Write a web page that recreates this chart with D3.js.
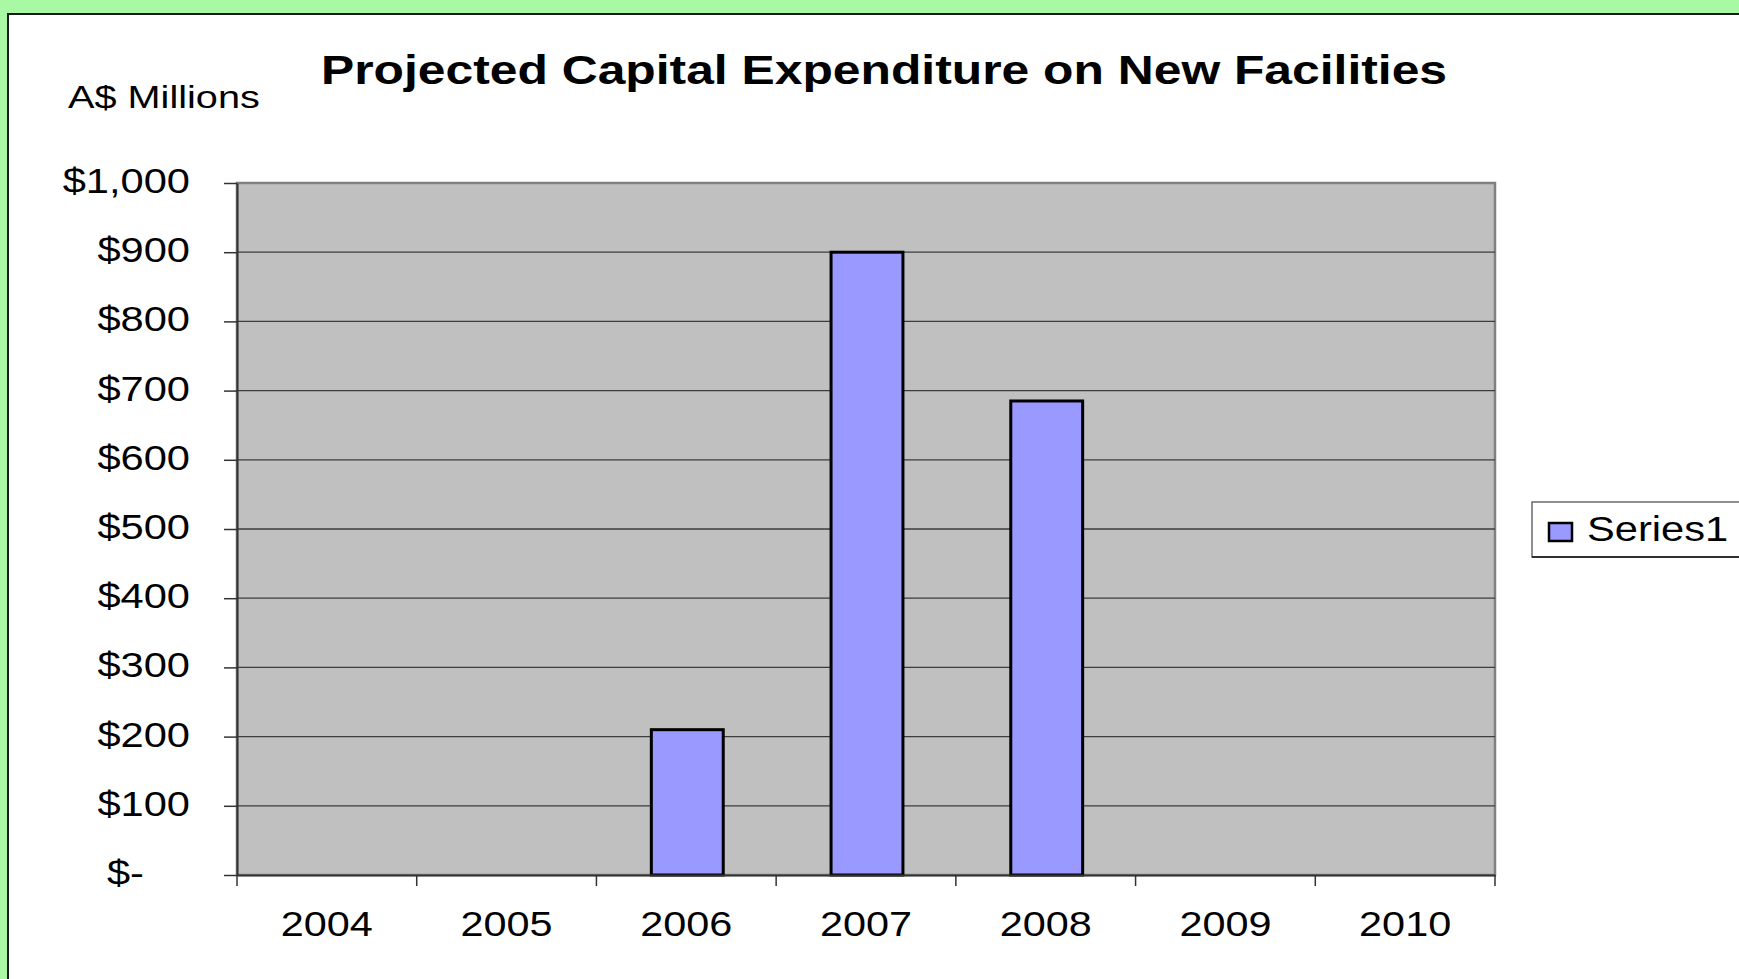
<!DOCTYPE html>
<html>
<head>
<meta charset="utf-8">
<script src="https://cdn.jsdelivr.net/npm/d3@7"></script>
<style>
  html, body { margin: 0; padding: 0; background: #a9f8a3; }
  svg { display: block; }
  text { font-family: "Liberation Sans", Arial, sans-serif; fill: #000; }
</style>
</head>
<body>
<script>
// Chart data
const years = ["2004", "2005", "2006", "2007", "2008", "2009", "2010"];
const capex = [null, null, 210, 900, 685, null, null];   // A$ millions
const yTicks = [0, 100, 200, 300, 400, 500, 600, 700, 800, 900, 1000];
const titleText = "Projected Capital Expenditure on New Facilities";
const unitText = "A$ Millions";
const seriesName = "Series1";

const W = 1739, H = 979;
const plot = { left: 237, right: 1495, top: 183, bottom: 875 };

const svg = d3.select("body").append("svg")
  .attr("width", W).attr("height", H);

// Page background and white chart panel
svg.append("rect").attr("width", W).attr("height", H).attr("fill", "#a9f8a3");
svg.append("rect")
  .attr("x", 8).attr("y", 14).attr("width", W + 10).attr("height", H + 10)
  .attr("fill", "#fff").attr("stroke", "#1a1a1a").attr("stroke-width", 2);

// Text helper: horizontally widened lettering
function label(g, x, y, txt, opts) {
  const o = Object.assign({ size: 35, sx: 1.17, anchor: "start", weight: "normal" }, opts);
  return g.append("g")
    .attr("transform", `translate(${x},${y}) scale(${o.sx},1)`)
    .append("text")
    .attr("text-anchor", o.anchor)
    .attr("font-size", o.size)
    .attr("font-weight", o.weight)
    .text(txt);
}

const x = d3.scaleBand().domain(years).range([plot.left, plot.right]).padding(0);
const y = d3.scaleLinear().domain([0, 1000]).range([plot.bottom, plot.top]);

// Plot area
svg.append("rect")
  .attr("x", plot.left).attr("y", plot.top)
  .attr("width", plot.right - plot.left).attr("height", plot.bottom - plot.top)
  .attr("fill", "#c0c0c0").attr("stroke", "#808080").attr("stroke-width", 2.5);

// Gridlines
svg.append("g").selectAll("line")
  .data(yTicks.filter(v => v > 0 && v < 1000))
  .join("line")
  .attr("x1", plot.left).attr("x2", plot.right)
  .attr("y1", d => y(d)).attr("y2", d => y(d))
  .attr("stroke", "#3c3c3c").attr("stroke-width", 1.3);

// Bars
const bw = x.bandwidth() * 0.4;
svg.append("g").selectAll("rect")
  .data(years.map((yr, i) => ({ yr, v: capex[i] })).filter(d => d.v != null))
  .join("rect")
  .attr("x", d => x(d.yr) + (x.bandwidth() - bw) / 2 + 1)
  .attr("y", d => y(d.v))
  .attr("width", bw)
  .attr("height", d => y(0) - y(d.v))
  .attr("fill", "#9999ff").attr("stroke", "#000").attr("stroke-width", 3);

// Y axis
const yAxis = svg.append("g").attr("transform", `translate(${plot.left},0)`)
  .call(d3.axisLeft(y).tickValues(yTicks).tickSize(13).tickSizeOuter(0).tickFormat(""));
yAxis.select(".domain").attr("stroke", "#333").attr("stroke-width", 2);
yAxis.selectAll(".tick line").attr("stroke", "#333").attr("stroke-width", 1.5);

const fmt = v => v === 0 ? "$-" : "$" + d3.format(",")(v);
yTicks.forEach(v => {
  const xr = v === 0 ? 144 : 190;
  label(svg, xr, y(v) + 10, fmt(v), { anchor: "end", size: 35, sx: 1.19 });
});

// X axis
const xAxis = svg.append("g").attr("transform", `translate(0,${plot.bottom})`)
  .call(d3.axisBottom(x).tickSize(0).tickSizeOuter(0).tickFormat(""));
xAxis.select(".domain").attr("stroke", "#333").attr("stroke-width", 2);
xAxis.selectAll(".tick").remove();
svg.append("g").selectAll("line")
  .data(years.map(yr => x(yr)).concat([plot.right]))
  .join("line")
  .attr("x1", d => d).attr("x2", d => d)
  .attr("y1", plot.bottom).attr("y2", plot.bottom + 11)
  .attr("stroke", "#333").attr("stroke-width", 1.5);
years.forEach(yr => {
  label(svg, x(yr) + x.bandwidth() / 2, 936, yr, { anchor: "middle", size: 36, sx: 1.15 });
});

// Title and unit label
label(svg, 884, 84, titleText, { anchor: "middle", size: 40, sx: 1.245, weight: "bold" });
label(svg, 68, 108, unitText, { size: 32, sx: 1.24 });

// Legend
const lg = svg.append("g");
lg.append("rect")
  .attr("x", 1532).attr("y", 502).attr("width", 260).attr("height", 55)
  .attr("fill", "#fff").attr("stroke", "#6a6a6a").attr("stroke-width", 1.5);
lg.append("line")
  .attr("x1", 1532).attr("x2", W).attr("y1", 557).attr("y2", 557)
  .attr("stroke", "#111").attr("stroke-width", 1.5);
lg.append("rect")
  .attr("x", 1549).attr("y", 523).attr("width", 23).attr("height", 18)
  .attr("fill", "#9999ff").attr("stroke", "#000").attr("stroke-width", 2.5);
label(lg, 1587, 541, seriesName, { size: 35, sx: 1.19 });
</script>
</body>
</html>
